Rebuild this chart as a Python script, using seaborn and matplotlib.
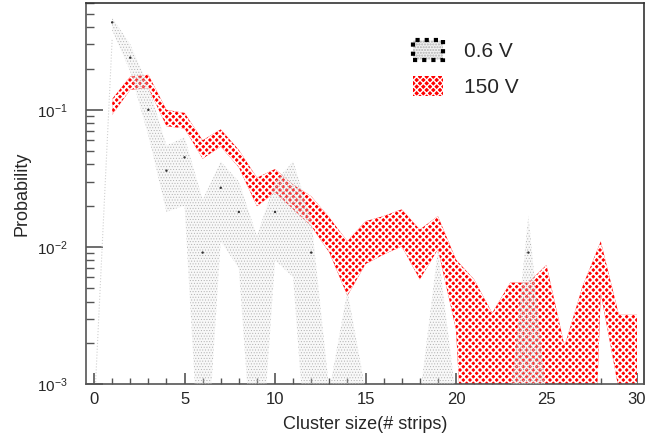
import numpy as np
import pandas as pd
import seaborn as sns
import matplotlib.pyplot as plt
from matplotlib.patches import Patch
from matplotlib.legend_handler import HandlerTuple
from matplotlib.ticker import MultipleLocator, LogLocator

# 150 V band (upper / lower edge of the probability band)
x_150 = np.arange(1, 31)
up_150 = [0.12, 0.175, 0.18, 0.10, 0.095, 0.06, 0.072, 0.051, 0.032, 0.037,
          0.0285, 0.0234, 0.0164, 0.011, 0.0154, 0.0168, 0.0188, 0.0134, 0.0168, 0.0081,
          0.0058, 0.0033, 0.0055, 0.0055, 0.0074, 0.0019, 0.0052, 0.011, 0.0032, 0.0032]
lo_150 = [0.092, 0.14, 0.144, 0.076, 0.073, 0.044, 0.054, 0.038, 0.0198, 0.025,
          0.0188, 0.0142, 0.0091, 0.0044, 0.0075, 0.0088, 0.0101, 0.0058, 0.0096, 0.0025,
          1e-5, 1e-5, 1e-5, 1e-5, 1e-4, 1e-4, 1e-6, 0.0046, 9e-4, 1e-5]

# 0.6 V band
x_06 = np.arange(1, 26)
up_06 = [0.47, 0.30, 0.15, 0.055, 0.063, 0.022, 0.042, 0.03, 0.012, 0.03,
         0.042, 0.016, 0.0009, 0.0048, 0.0009, 0.0004, 0.0004, 0.0008, 0.0095, 0.0008,
         0.0004, 0.0004, 0.0008, 0.017, 0.0008]
lo_06 = [0.38, 0.19, 0.065, 0.018, 0.02, 1e-4, 0.011, 0.007, 1e-4, 0.008,
         0.006, 1e-4, 1e-4, 1e-4, 1e-4, 1e-4, 1e-4, 1e-4, 1e-4, 1e-4,
         1e-4, 1e-4, 1e-4, 1e-4, 1e-4]
# central values of the 0.6 V points
cx_06 = [1, 2, 3, 4, 5, 6, 7, 8, 10, 12, 24]
cy_06 = [0.434, 0.24, 0.1, 0.036, 0.045, 0.0091, 0.027, 0.018, 0.018, 0.0091, 0.0091]

sns.set_theme(style="ticks")
plt.rcParams['font.family'] = ['Liberation Sans', 'DejaVu Sans']

fig, ax = plt.subplots(figsize=(6.56, 4.41), dpi=100)
fig.subplots_adjust(left=0.131, right=0.982, bottom=0.129, top=0.993)


def band(x, up, lo):
    xs = np.concatenate([x, x[::-1]])
    ys = np.concatenate([np.array(up), np.array(lo)[::-1]])
    return xs, ys


# red band
with plt.rc_context({'hatch.linewidth': 1.3}):
    xs, ys = band(x_150, up_150, lo_150)
    ax.fill(xs, ys, facecolor="red", edgecolor="white", hatch="xxxxx", linewidth=0, zorder=2)

# gray band drawn on top
with plt.rc_context({'hatch.linewidth': 0.4}):
    xs, ys = band(x_06, up_06, lo_06)
    ax.fill(xs, ys, facecolor=(0.9, 0.9, 0.9, 0.25), edgecolor="#b0b0b0", hatch="......",
            linewidth=0, zorder=3)

# thin leftover of the 0.6 V band between 0 and 1
ax.plot([0, 1], [6e-4, 0.33], ls=":", color="#d0d0d0", lw=0.8, zorder=3)

pts = pd.DataFrame({"x": cx_06, "y": cy_06})
sns.scatterplot(data=pts, x="x", y="y", s=3, color="#333333", edgecolor="none", ax=ax, zorder=4)

ax.set_yscale("log")
ax.set_xlim(-0.45, 30.4)
ax.set_ylim(1e-3, 0.6)
ax.xaxis.set_major_locator(MultipleLocator(5))
ax.xaxis.set_minor_locator(MultipleLocator(1))
ax.yaxis.set_major_locator(LogLocator(base=10))
ax.yaxis.set_minor_locator(LogLocator(base=10, subs=np.arange(2, 10)))

ax.tick_params(axis="x", which="major", direction="in", length=8, width=1.2, color="#555555",
               labelsize=12, pad=6)
ax.tick_params(axis="x", which="minor", direction="in", length=4, width=1, color="#555555")
ax.tick_params(axis="y", which="major", direction="in", length=12, width=1.2, color="#555555",
               labelsize=11, pad=13)
ax.tick_params(axis="y", which="minor", direction="in", length=6, width=1, color="#555555")

for s in ax.spines.values():
    s.set_visible(True)
    s.set_color("#333333")
    s.set_linewidth(1.2)
ax.spines["left"].set_color("#555555")
ax.spines["bottom"].set_color("#555555")

ax.set_xlabel("Cluster size(# strips)", fontsize=13, labelpad=6)
ax.set_ylabel("Probability", fontsize=13, labelpad=5)

h06 = (Patch(facecolor=(0.9, 0.9, 0.9, 0.5), edgecolor="#b0b0b0", hatch="......", lw=0),
       Patch(facecolor="none", edgecolor="black", linestyle=(0, (1, 1.2)), lw=3))
h150 = Patch(facecolor="red", edgecolor="white", hatch="xxxxx", lw=0)
ax.legend([h06, h150], ["0.6 V", "150 V"], handler_map={tuple: HandlerTuple(ndivide=1)},
          loc="upper left", bbox_to_anchor=(0.552, 0.952), frameon=False, fontsize=15,
          handlelength=1.45, handleheight=1.1, labelspacing=0.72, handletextpad=1.0)

fig.savefig("out.png", dpi=100)
